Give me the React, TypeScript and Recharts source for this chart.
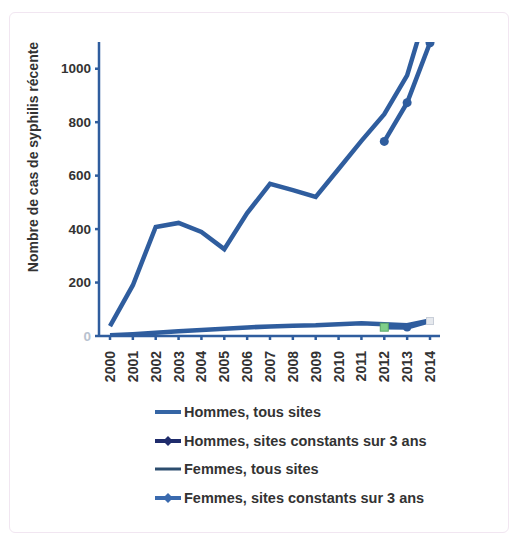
import React from 'react';
import { LineChart, Line, XAxis, YAxis, Label, Legend } from 'recharts';

const years = ['2000', '2001', '2002', '2003', '2004', '2005', '2006', '2007', '2008', '2009', '2010', '2011', '2012', '2013', '2014'];
const hommesTous = [37, 190, 408, 423, 389, 325, 460, 569, 546, 520, 625, 730, 830, 975, 1260];
const hommesConstants = [null, null, null, null, null, null, null, null, null, null, null, null, 728, 873, 1097];
const femmesTous = [3, 7, 12, 18, 22, 27, 32, 36, 38, 40, 44, 48, 44, 40, 58];
const femmesConstants = [null, null, null, null, null, null, null, null, null, null, null, null, 33, 32, 56];
const yTicks = [0, 200, 400, 600, 800, 1000];

const legendItems = [
  { label: 'Hommes, tous sites', color: '#3565a5', marker: false, width: 4 },
  { label: 'Hommes, sites constants sur 3 ans', color: '#1f2c6c', marker: true, width: 4 },
  { label: 'Femmes, tous sites', color: '#2c4d6e', marker: false, width: 3 },
  { label: 'Femmes, sites constants sur 3 ans', color: '#3a6aae', marker: true, width: 4 },
];

const data = years.map((year, i) => ({
  year,
  hommesTous: hommesTous[i],
  hommesConstants: hommesConstants[i],
  femmesTous: femmesTous[i],
  femmesConstants: femmesConstants[i],
}));

const BLUE = '#2f5d9e';
const FONT = '"Liberation Sans", Arial, sans-serif';

const XTick = (props: any) => {
  const { x, y, payload } = props;
  return (
    <g transform={`translate(${x},${y + 9})`}>
      <text transform="rotate(-90)" textAnchor="end" dominantBaseline="central" fontSize={14} fontWeight="bold" fill="#333" fontFamily={FONT}>
        {payload.value}
      </text>
    </g>
  );
};

const YTick = (props: any) => {
  const { x, y, payload } = props;
  return (
    <text x={x - 2} y={y} textAnchor="end" dominantBaseline="central" fontSize={13.5} fontWeight="bold" fill={payload.value === 0 ? '#b8c2cf' : '#333'} fontFamily={FONT}>
      {payload.value}
    </text>
  );
};

const FemmesDot = (props: any) => {
  const { cx, cy, index } = props;
  if (cx == null || cy == null) return null;
  if (index === 12) return <rect key={index} x={cx - 4} y={cy - 4} width={8} height={8} fill="#7fd08a" stroke="#5aa868" />;
  if (index === 14) return <rect key={index} x={cx - 3.5} y={cy - 3.5} width={7} height={7} fill="#e6e9ee" stroke="#c8ced8" />;
  return <circle key={index} cx={cx} cy={cy} r={4} fill={BLUE} />;
};

const LegendContent = () => (
  <div style={{ fontFamily: FONT, fontSize: 14.5, fontWeight: 'bold', color: '#333' }}>
    {legendItems.map((item) => (
      <div key={item.label} style={{ display: 'flex', alignItems: 'center', height: 28.5 }}>
        <svg width={28} height={12} style={{ marginRight: 2 }}>
          <line x1={1} y1={6} x2={27} y2={6} stroke={item.color} strokeWidth={item.width} />
          {item.marker && <path d="M14 1 L19 6 L14 11 L9 6 Z" fill={item.color} />}
        </svg>
        <span>{item.label}</span>
      </div>
    ))}
  </div>
);

const App: React.FC = () => {
  return (
    <div style={{ position: 'absolute', left: 0, top: 0, width: 517, height: 535, background: '#fff' }}>
      <div style={{ position: 'absolute', left: 9, top: 12, width: 498, height: 519, border: '1px solid #f1e6f1', borderRadius: 6 }} />
      <LineChart width={517} height={535} data={data} margin={{ top: 42, right: 77, left: 10, bottom: 149 }}>
        <XAxis
          dataKey="year"
          interval={0}
          height={50}
          padding={{ left: 11, right: 10 }}
          stroke={BLUE}
          strokeWidth={2.5}
          tickSize={4}
          tick={<XTick />}
        />
        <YAxis
          domain={[0, 1100]}
          allowDataOverflow
          ticks={yTicks}
          width={89}
          stroke={BLUE}
          strokeWidth={2.5}
          tickSize={4}
          tick={<YTick />}
        >
          <Label
            value="Nombre de cas de syphilis récente"
            angle={-90}
            position="insideLeft"
            offset={0}
            dx={23}
            dy={-32}
            style={{ textAnchor: 'middle', fontSize: 14, fontWeight: 'bold', fill: '#333', fontFamily: FONT }}
          />
        </YAxis>
        <Legend
          layout="vertical"
          align="center"
          verticalAlign="middle"
          content={<LegendContent />}
          wrapperStyle={{ position: 'absolute', left: 154, top: 398, width: 330 }}
        />
        <Line dataKey="hommesTous" stroke={BLUE} strokeWidth={4.5} dot={false} isAnimationActive={false} />
        <Line dataKey="hommesConstants" stroke={BLUE} strokeWidth={4.5} dot={{ r: 4.5, fill: BLUE, stroke: 'none' }} isAnimationActive={false} />
        <Line dataKey="femmesTous" stroke={BLUE} strokeWidth={4.5} dot={false} isAnimationActive={false} />
        <Line dataKey="femmesConstants" stroke={BLUE} strokeWidth={4.5} dot={<FemmesDot />} isAnimationActive={false} />
      </LineChart>
    </div>
  );
};

export default App;
